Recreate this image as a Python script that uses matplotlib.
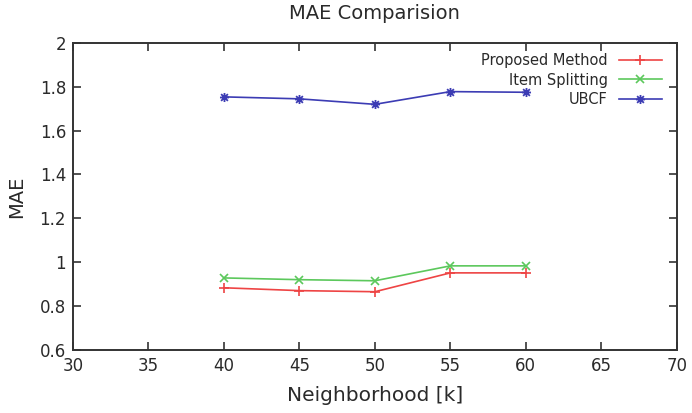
import matplotlib
matplotlib.use("Agg")
import matplotlib.pyplot as plt
from matplotlib.path import Path

# Neighborhood sizes and MAE per method
neighborhood = [40, 45, 50, 55, 60]
proposed_method = [0.883, 0.870, 0.865, 0.951, 0.951]
item_splitting = [0.928, 0.920, 0.915, 0.983, 0.983]
ubcf = [1.754, 1.745, 1.720, 1.778, 1.775]

x_ticks = [30, 35, 40, 45, 50, 55, 60, 65, 70]
y_ticks = [0.6, 0.8, 1.0, 1.2, 1.4, 1.6, 1.8, 2.0]
y_tick_labels = ["0.6", "0.8", "1", "1.2", "1.4", "1.6", "1.8", "2"]

# gnuplot-style "*" point: a plus and a cross drawn together
star_path = Path(
    [(-1, 0), (1, 0), (0, -1), (0, 1), (-0.75, -0.75), (0.75, 0.75), (-0.75, 0.75), (0.75, -0.75)],
    [Path.MOVETO, Path.LINETO] * 4,
)

plt.rcParams["font.family"] = ["DejaVu Sans"]
fig = plt.figure(figsize=(6.92, 4.13), dpi=100)
ax = fig.add_axes([0.1055, 0.153, 0.8725, 0.743])

frame_col = "#333333"
text_col = "#2a2a2a"

ax.plot(neighborhood, proposed_method, color="#ee4444", lw=1.2, marker="+",
        ms=6.5, mew=1.2, label="Proposed Method")
ax.plot(neighborhood, item_splitting, color="#5cc85c", lw=1.2, marker="x",
        ms=5.5, mew=1.2, label="Item Splitting")
ax.plot(neighborhood, ubcf, color="#3c3cb4", lw=1.2, marker=star_path,
        ms=6.5, mew=1.3, fillstyle="none", label="UBCF")

ax.set_xlim(30, 70)
ax.set_ylim(0.6, 2.0)
ax.set_xticks(x_ticks)
ax.set_yticks(y_ticks)
ax.set_yticklabels(y_tick_labels)

ax.tick_params(direction="in", length=6, width=1.2, color=frame_col,
               top=True, right=True, labelsize=12, labelcolor=text_col, pad=5)
for sp in ax.spines.values():
    sp.set_color(frame_col)
    sp.set_linewidth(1.4)

ax.set_title("MAE Comparision", fontsize=14, color=text_col, pad=17)
ax.set_xlabel("Neighborhood [k]", fontsize=14.5, color=text_col, labelpad=8)
ax.set_ylabel("MAE", fontsize=14, color=text_col, labelpad=10)

leg = ax.legend(loc="upper right", bbox_to_anchor=(0.993, 1.0), frameon=False,
                markerfirst=False, fontsize=10.5, handlelength=3.0,
                handletextpad=0.75, labelspacing=0.3, borderaxespad=0.3,
                borderpad=0.4)
for t in leg.get_texts():
    t.set_color(text_col)

fig.savefig("out.png", dpi=100)
